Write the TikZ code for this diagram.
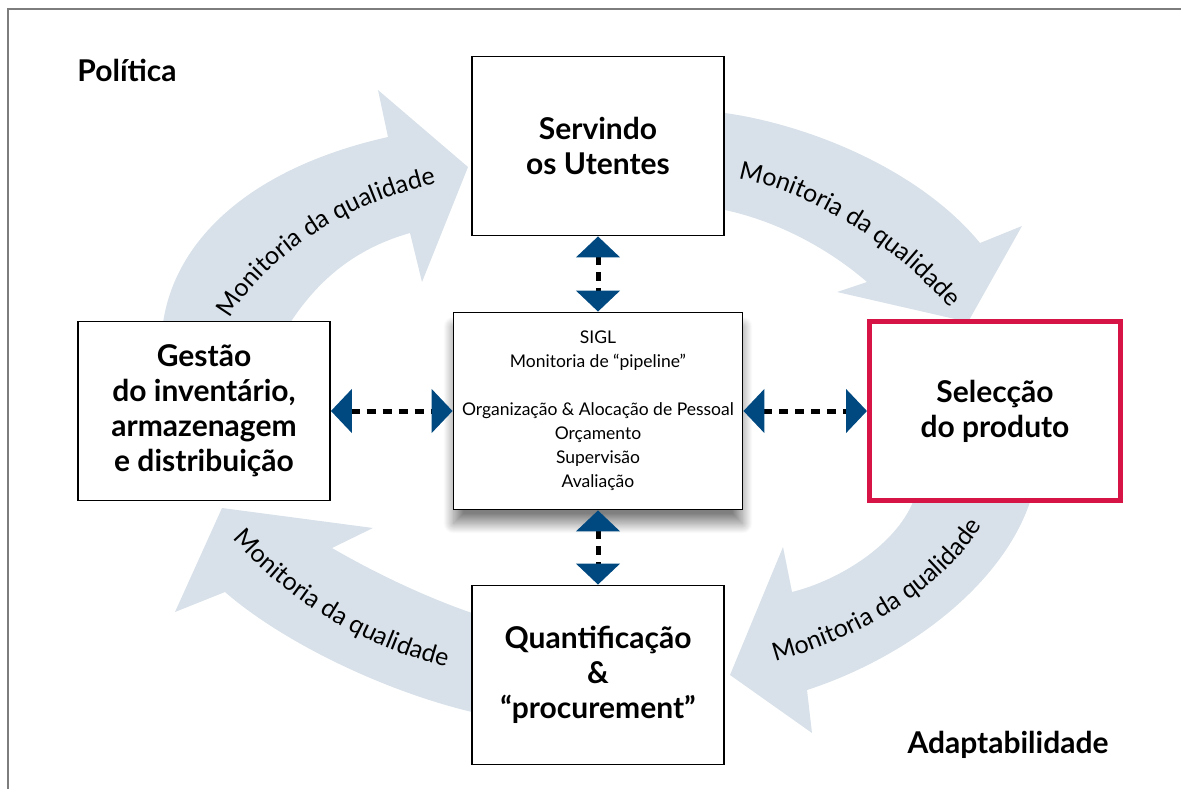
\documentclass[tikz,border=0pt]{standalone}
\usepackage{fontspec}
\setmainfont{Lato}
\usetikzlibrary{positioning, arrows.meta, decorations.text, shadows.blur}

\definecolor{ciclo}{RGB}{216,225,233}
\definecolor{marinho}{RGB}{0,73,128}
\definecolor{carmim}{RGB}{214,20,70}
\definecolor{moldura}{RGB}{125,125,125}

\tikzset{
	caixa/.style={draw, line width=1.8pt, fill=white, minimum width=252pt, minimum height=179pt, align=center, inner sep=0pt, font=\fontsize{30}{35}\selectfont\bfseries},
	ligacao/.style={line width=5pt, dash pattern=on 9pt off 7pt, >={Triangle[width=43pt, length=21pt, color=marinho, fill=marinho]}, <->},
	faixa/.style={fill=ciclo},
	rotulo/.style={decorate, decoration={text along path, text align=center, text={|\fontsize{25}{25}\selectfont|Monitoria da qualidade}}},
	canto/.style={font=\fontsize{30}{35}\selectfont\bfseries},
}

\begin{document}
\begin{tikzpicture}[x=1pt, y=-1pt, node distance=2cm, on grid]
	\useasboundingbox (0,0) rectangle (1181,789);
	\draw[moldura, line width=2.5pt] (8,789) -- (8,9) -- (1181,9);
	
	% faixas do ciclo
	\fill[faixa] (158,345) -- (163,323) .. controls (175,240) and (250,168) .. (388,137) -- (378,90) -- (468,167) -- (422,282) -- (410,233) .. controls (350,250) and (315,285) .. (290,323) -- (285,345) -- cycle;
	\fill[faixa] (700,110) -- (725,113) .. controls (810,125) and (920,170) .. (980,243) -- (1022,226) -- (968,322) -- (837,292) -- (867,282) .. controls (830,250) and (780,222) .. (725,210) -- (700,207) -- cycle;
	\fill[faixa] (1032,480) -- (1030,502) .. controls (1000,590) and (900,660) .. (807,690) -- (812,733) -- (730,675) -- (783,547) -- (792,592) .. controls (840,580) and (895,545) .. (913,502) -- (915,480) -- cycle;
	\fill[faixa] (495,716) -- (472,712) .. controls (380,690) and (280,640) .. (225,592) -- (175,612) -- (222,508) -- (373,528) -- (332,548) .. controls (370,570) and (420,595) .. (472,613) -- (495,617) -- cycle;
	
	\path[rotulo] (226,326) .. controls (255,270) and (330,205) .. (444,182);
	\path[rotulo] (736,178) .. controls (800,190) and (880,230) .. (952,310);
	\path[rotulo] (766,664) .. controls (860,640) and (945,590) .. (987,518);
	\path[rotulo] (230,536) .. controls (285,600) and (365,648) .. (450,668);
	
	% caixas
	\node[caixa, minimum width=289pt, minimum height=197pt, font=\fontsize{17.5}{24}\selectfont, blur shadow={shadow xshift=0pt, shadow yshift=-14pt, shadow blur radius=10pt, shadow blur steps=20, shadow opacity=50}] (sigl) at (598,411) {SIGL\\Monitoria de “pipeline”\\[24pt]Organização \& Alocação de Pessoal\\Orçamento\\Supervisão\\Avaliação};
	\node[caixa] (utentes) [above=265pt of sigl] {Servindo\\os Utentes};
	\node[caixa] (gestao) [left=394pt of sigl] {Gestão\\do inventário,\\armazenagem\\e distribuição};
	\node[caixa, draw=carmim, line width=5pt, minimum width=251pt] (seleccao) [right=397pt of sigl] {Selecção\\do produto};
	\node[caixa] (quantif) [below=264pt of sigl] {Quantificação\\\&\\“procurement”};
	
	\draw[ligacao] (utentes) -- (sigl);
	\draw[ligacao] (gestao) -- (sigl);
	\draw[ligacao] (sigl) -- (seleccao);
	\draw[ligacao] (sigl) -- (quantif);
	
	\node[canto] (politica) at (127,70) {Política};
	\node[canto] (adapt) at (1008,745) {Adaptabilidade};
\end{tikzpicture}
\end{document}
